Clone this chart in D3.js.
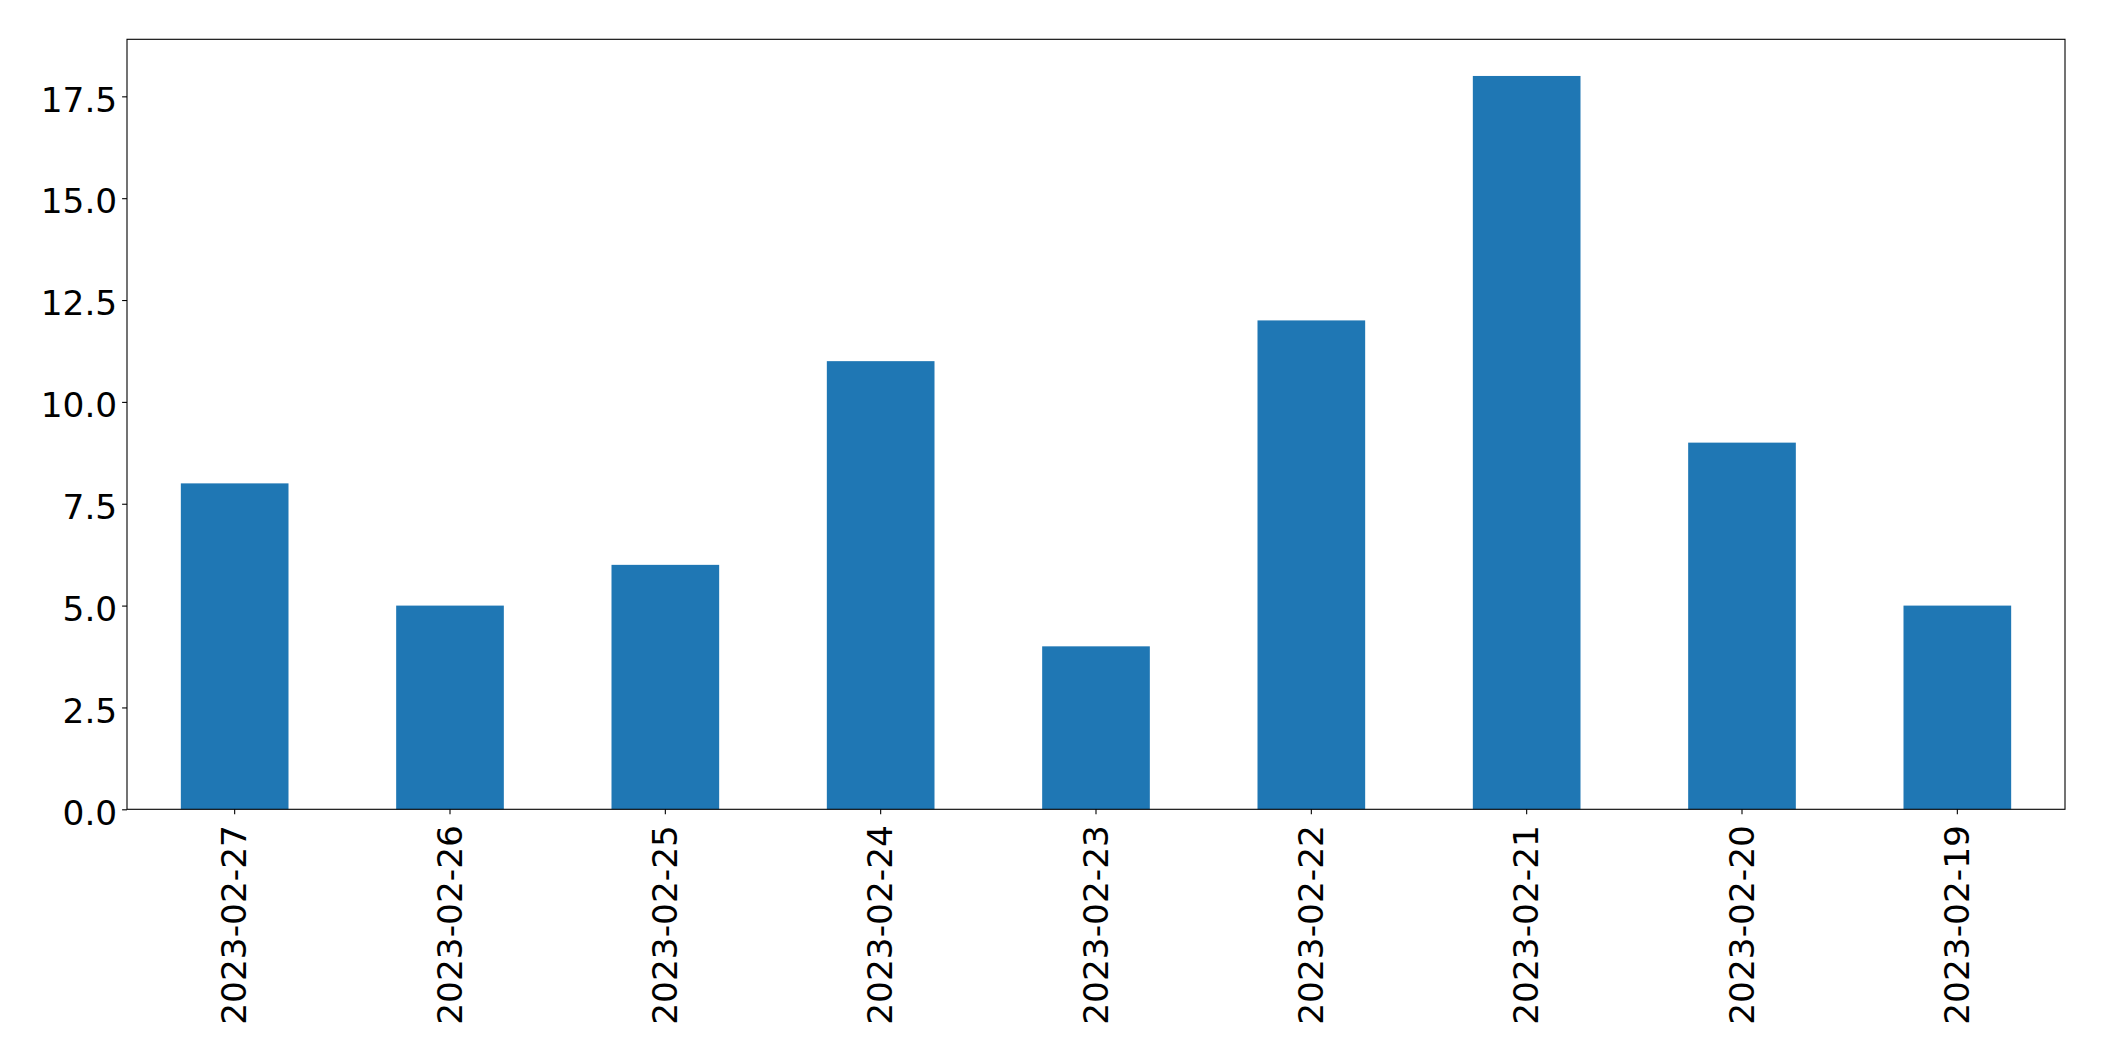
<!DOCTYPE html>
<html>
<head>
<meta charset="utf-8">
<script src="https://cdn.jsdelivr.net/npm/d3@7"></script>
<style>
  html, body { margin: 0; padding: 0; background: #fff; }
  svg { display: block; }
  .tick text { font-family: "DejaVu Sans", sans-serif; font-size: 34.4px; fill: #000; }
</style>
</head>
<body>
<svg id="chart" width="2104" height="1061"></svg>
<script>
const categories = ["2023-02-27","2023-02-26","2023-02-25","2023-02-24","2023-02-23","2023-02-22","2023-02-21","2023-02-20","2023-02-19"];
const values = [8, 5, 6, 11, 4, 12, 18, 9, 5];
const yTicks = [0, 2.5, 5, 7.5, 10, 12.5, 15, 17.5];

(function () {
const svg = d3.select("#chart");
const mLeft = 127, mRight = 2065, mTop = 39.3, mBottom = 809.3;

const x = d3.scaleBand().domain(categories).range([mLeft, mRight]).paddingInner(0.5).paddingOuter(0.25);
const y = d3.scaleLinear().domain([0, d3.max(values) * 1.05]).range([mBottom, mTop]);

svg.append("g").selectAll("rect").data(values).join("rect")
  .attr("x", (d, i) => x(categories[i]))
  .attr("width", x.bandwidth())
  .attr("y", d => y(d))
  .attr("height", d => y(0) - y(d))
  .attr("fill", "#1f77b4");

const yAxis = svg.append("g").attr("transform", `translate(${mLeft},0)`)
  .call(d3.axisLeft(y).tickValues(yTicks).tickFormat(d3.format(".1f")).tickSize(4.9).tickPadding(4.9));
yAxis.select(".domain").remove();
yAxis.selectAll(".tick line").attr("stroke", "#000").attr("stroke-width", 1.1);
yAxis.selectAll(".tick text").attr("dy", "0.43em");

const xAxis = svg.append("g").attr("transform", `translate(0,${mBottom})`)
  .call(d3.axisBottom(x).tickSize(4.9).tickPadding(4.9));
xAxis.select(".domain").remove();
xAxis.selectAll(".tick line").attr("stroke", "#000").attr("stroke-width", 1.1);
xAxis.selectAll(".tick text")
  .attr("transform", "rotate(-90)")
  .attr("text-anchor", "end")
  .attr("x", -15.7)
  .attr("y", 0)
  .attr("dy", "0.34em");

svg.append("rect")
  .attr("x", mLeft).attr("y", mTop)
  .attr("width", mRight - mLeft).attr("height", mBottom - mTop)
  .attr("fill", "none").attr("stroke", "#000").attr("stroke-width", 1.1);
})();
</script>
</body>
</html>
